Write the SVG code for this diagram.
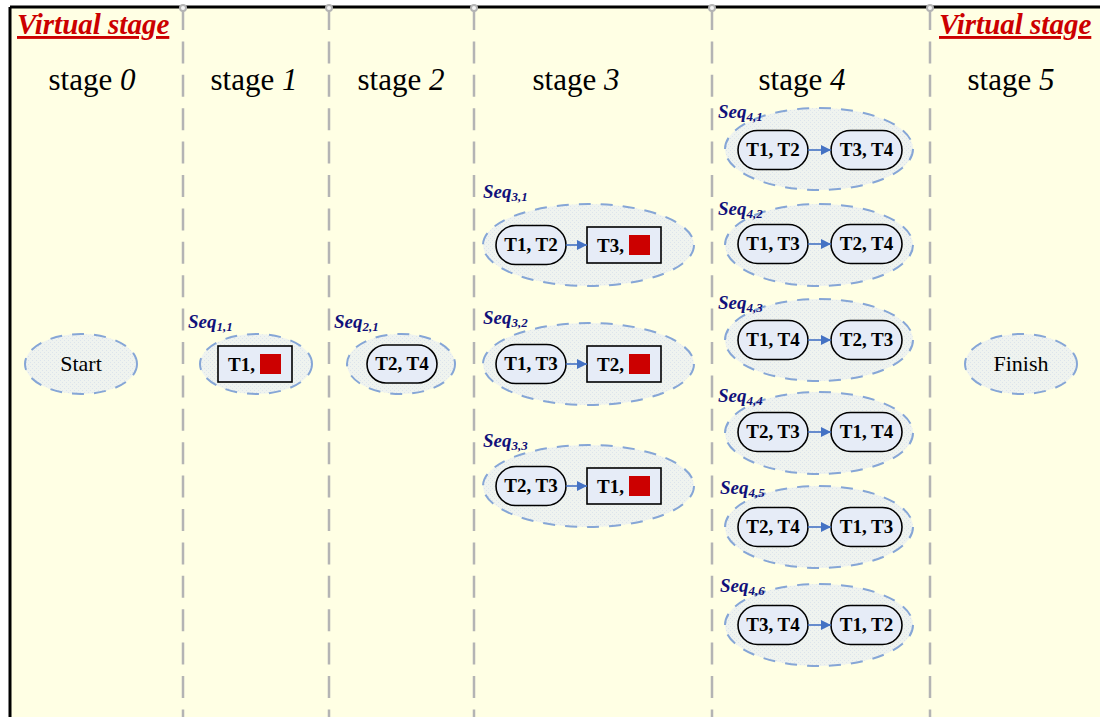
<svg xmlns="http://www.w3.org/2000/svg" width="1100" height="717" viewBox="0 0 1100 717">
  <defs>
    <pattern id="stipple" width="4" height="4" patternUnits="userSpaceOnUse">
      <rect width="4" height="4" fill="#EFF3EF"/>
      <rect x="0" y="0" width="1" height="1" fill="#DCE4EC"/>
      <rect x="2" y="2" width="1" height="1" fill="#DCE4EC"/>
    </pattern>
    <marker id="arrow" viewBox="0 0 10 10" refX="10" refY="5" markerWidth="10" markerHeight="10" markerUnits="userSpaceOnUse" orient="auto">
      <path d="M0,0 L10,5 L0,10 z" fill="#4472C4"/>
    </marker>
    <style>
      .virt { font-family: "Liberation Serif", "Times New Roman", serif; font-size: 29px; font-weight: bold; font-style: italic; fill: #CC0000; text-decoration: underline; }
      .stage { font-family: "Liberation Serif", "Times New Roman", serif; font-size: 31px; fill: #000; }
      .num { font-style: italic; }
      .divider { stroke: #B4B4B4; stroke-width: 2.5; stroke-dasharray: 22 11.4; fill: none; }
      .pin { stroke: #B4B4B4; stroke-width: 2; fill: #F4F4F4; }
      .seqoval { fill: url(#stipple); stroke: #86A6D6; stroke-width: 2; stroke-dasharray: 12 10; }
      .task { fill: #E6ECF7; stroke: #000; stroke-width: 1.6; }
      .tlabel { font-family: "Liberation Serif", "Times New Roman", serif; font-size: 19px; font-weight: bold; fill: #000; }
      .plain { font-family: "Liberation Serif", "Times New Roman", serif; font-size: 22px; fill: #000; text-anchor: middle; }
      .seq { font-family: "Liberation Serif", "Times New Roman", serif; font-size: 19px; font-weight: bold; font-style: italic; fill: #10107A; }
      .sub { font-size: 13px; }
      .busy { fill: #CC0000; }
      .link { stroke: #4472C4; stroke-width: 1.6; fill: none; marker-end: url(#arrow); }
    </style>
  </defs>

  <!-- canvas -->
  <rect x="0" y="0" width="1100" height="717" fill="#FFFFFF"/>
  <rect x="10" y="7" width="1090" height="710" fill="#FFFFE4"/>
  <line x1="10" y1="7" x2="1100" y2="7" stroke="#000" stroke-width="3"/>
  <line x1="10" y1="7" x2="10" y2="717" stroke="#000" stroke-width="3"/>

  <!-- stage dividers -->
  <g id="dividers">
    <line class="divider" x1="183" y1="8" x2="183" y2="717"/>
    <line class="divider" x1="329" y1="8" x2="329" y2="717"/>
    <line class="divider" x1="474" y1="8" x2="474" y2="717"/>
    <line class="divider" x1="712" y1="8" x2="712" y2="717"/>
    <line class="divider" x1="930" y1="8" x2="930" y2="717"/>
    <circle class="pin" cx="183" cy="8" r="3"/>
    <circle class="pin" cx="329" cy="8" r="3"/>
    <circle class="pin" cx="474" cy="8" r="3"/>
    <circle class="pin" cx="712" cy="8" r="3"/>
    <circle class="pin" cx="930" cy="8" r="3"/>
  </g>

  <!-- headings -->
  <g id="headings">
    <text class="virt" x="17" y="34">Virtual stage</text>
    <text class="virt" x="939" y="34">Virtual stage</text>
    <text class="stage" x="92" y="90" text-anchor="middle">stage <tspan class="num">0</tspan></text>
    <text class="stage" x="254" y="90" text-anchor="middle">stage <tspan class="num">1</tspan></text>
    <text class="stage" x="401" y="90" text-anchor="middle">stage <tspan class="num">2</tspan></text>
    <text class="stage" x="576" y="90" text-anchor="middle">stage <tspan class="num">3</tspan></text>
    <text class="stage" x="802" y="90" text-anchor="middle">stage <tspan class="num">4</tspan></text>
    <text class="stage" x="1011" y="90" text-anchor="middle">stage <tspan class="num">5</tspan></text>
  </g>

  <!-- stage 0 -->
  <g id="start">
    <ellipse class="seqoval" cx="81" cy="364" rx="56" ry="30"/>
    <text class="plain" x="81" y="371">Start</text>
  </g>

  <!-- stage 1 -->
  <g id="seq-1-1">
    <ellipse class="seqoval" cx="256" cy="364" rx="56" ry="30"/>
    <rect class="task" x="218" y="346" width="74" height="36"/>
    <text class="tlabel" x="228" y="371">T1,</text>
    <rect class="busy" x="260" y="354" width="21" height="20"/>
    <text class="seq" x="188" y="328">Seq<tspan class="sub" dy="3">1,1</tspan></text>
  </g>

  <!-- stage 2 -->
  <g id="seq-2-1">
    <ellipse class="seqoval" cx="401" cy="364" rx="54" ry="30"/>
    <rect class="task" x="367" y="345" width="70" height="38" rx="19"/>
    <text class="tlabel" x="402" y="370" text-anchor="middle">T2, T4</text>
    <text class="seq" x="334" y="328">Seq<tspan class="sub" dy="3">2,1</tspan></text>
  </g>

  <!-- stage 3 -->
  <g id="seq-3-1">
    <ellipse class="seqoval" cx="588.5" cy="245" rx="105.5" ry="41"/>
    <rect class="task" x="496" y="225.5" width="70" height="39" rx="19.5"/>
    <text class="tlabel" x="531" y="251" text-anchor="middle">T1, T2</text>
    <rect class="task" x="587" y="227" width="74" height="36"/>
    <text class="tlabel" x="597" y="252">T3,</text>
    <rect class="busy" x="629" y="235" width="21" height="20"/>
    <text class="seq" x="483" y="198">Seq<tspan class="sub" dy="3">3,1</tspan></text>
  </g>
  <g id="seq-3-2">
    <ellipse class="seqoval" cx="588.5" cy="364" rx="105.5" ry="41"/>
    <rect class="task" x="496" y="344.5" width="70" height="39" rx="19.5"/>
    <text class="tlabel" x="531" y="370" text-anchor="middle">T1, T3</text>
    <rect class="task" x="587" y="346" width="74" height="36"/>
    <text class="tlabel" x="597" y="371">T2,</text>
    <rect class="busy" x="629" y="354" width="21" height="20"/>
    <text class="seq" x="483" y="324">Seq<tspan class="sub" dy="3">3,2</tspan></text>
  </g>
  <g id="seq-3-3">
    <ellipse class="seqoval" cx="588.5" cy="486" rx="105.5" ry="41"/>
    <rect class="task" x="496" y="466.5" width="70" height="39" rx="19.5"/>
    <text class="tlabel" x="531" y="492" text-anchor="middle">T2, T3</text>
    <rect class="task" x="587" y="468" width="74" height="36"/>
    <text class="tlabel" x="597" y="493">T1,</text>
    <rect class="busy" x="629" y="476" width="21" height="20"/>
    <text class="seq" x="483" y="447">Seq<tspan class="sub" dy="3">3,3</tspan></text>
  </g>

  <!-- stage 4 -->
  <g id="seq-4-1">
    <ellipse class="seqoval" cx="819" cy="149" rx="94" ry="41"/>
    <rect class="task" x="738" y="130.5" width="70" height="39" rx="19.5"/>
    <text class="tlabel" x="773" y="156" text-anchor="middle">T1, T2</text>
    <rect class="task" x="831" y="130.5" width="71" height="39" rx="19.5"/>
    <text class="tlabel" x="866.5" y="156" text-anchor="middle">T3, T4</text>
    <text class="seq" x="718" y="118">Seq<tspan class="sub" dy="3">4,1</tspan></text>
  </g>
  <g id="seq-4-2">
    <ellipse class="seqoval" cx="819" cy="245" rx="94" ry="41"/>
    <rect class="task" x="738" y="224.5" width="70" height="39" rx="19.5"/>
    <text class="tlabel" x="773" y="250" text-anchor="middle">T1, T3</text>
    <rect class="task" x="831" y="224.5" width="71" height="39" rx="19.5"/>
    <text class="tlabel" x="866.5" y="250" text-anchor="middle">T2, T4</text>
    <text class="seq" x="718" y="215">Seq<tspan class="sub" dy="3">4,2</tspan></text>
  </g>
  <g id="seq-4-3">
    <ellipse class="seqoval" cx="819" cy="340" rx="94" ry="41"/>
    <rect class="task" x="738" y="320.5" width="70" height="39" rx="19.5"/>
    <text class="tlabel" x="773" y="346" text-anchor="middle">T1, T4</text>
    <rect class="task" x="831" y="320.5" width="71" height="39" rx="19.5"/>
    <text class="tlabel" x="866.5" y="346" text-anchor="middle">T2, T3</text>
    <text class="seq" x="718" y="309">Seq<tspan class="sub" dy="3">4,3</tspan></text>
  </g>
  <g id="seq-4-4">
    <ellipse class="seqoval" cx="819" cy="433" rx="94" ry="41"/>
    <rect class="task" x="738" y="412.5" width="70" height="39" rx="19.5"/>
    <text class="tlabel" x="773" y="438" text-anchor="middle">T2, T3</text>
    <rect class="task" x="831" y="412.5" width="71" height="39" rx="19.5"/>
    <text class="tlabel" x="866.5" y="438" text-anchor="middle">T1, T4</text>
    <text class="seq" x="718" y="402">Seq<tspan class="sub" dy="3">4,4</tspan></text>
  </g>
  <g id="seq-4-5">
    <ellipse class="seqoval" cx="819" cy="527" rx="94" ry="41"/>
    <rect class="task" x="738" y="507.5" width="70" height="39" rx="19.5"/>
    <text class="tlabel" x="773" y="533" text-anchor="middle">T2, T4</text>
    <rect class="task" x="831" y="507.5" width="71" height="39" rx="19.5"/>
    <text class="tlabel" x="866.5" y="533" text-anchor="middle">T1, T3</text>
    <text class="seq" x="720" y="494">Seq<tspan class="sub" dy="3">4,5</tspan></text>
  </g>
  <g id="seq-4-6">
    <ellipse class="seqoval" cx="819" cy="625" rx="94" ry="41"/>
    <rect class="task" x="738" y="605.5" width="70" height="39" rx="19.5"/>
    <text class="tlabel" x="773" y="631" text-anchor="middle">T3, T4</text>
    <rect class="task" x="831" y="605.5" width="71" height="39" rx="19.5"/>
    <text class="tlabel" x="866.5" y="631" text-anchor="middle">T1, T2</text>
    <text class="seq" x="720" y="592">Seq<tspan class="sub" dy="3">4,6</tspan></text>
  </g>

  <!-- stage 5 -->
  <g id="finish">
    <ellipse class="seqoval" cx="1021" cy="364" rx="56" ry="30"/>
    <text class="plain" x="1021" y="371">Finish</text>
  </g>

  <!-- connectors between tasks inside a sequence -->
  <g id="connectors">
    <line class="link" x1="566" y1="245" x2="587" y2="245"/>
    <line class="link" x1="566" y1="364" x2="587" y2="364"/>
    <line class="link" x1="566" y1="486" x2="587" y2="486"/>
    <line class="link" x1="808" y1="150" x2="831" y2="150"/>
    <line class="link" x1="808" y1="244" x2="831" y2="244"/>
    <line class="link" x1="808" y1="340" x2="831" y2="340"/>
    <line class="link" x1="808" y1="432" x2="831" y2="432"/>
    <line class="link" x1="808" y1="527" x2="831" y2="527"/>
    <line class="link" x1="808" y1="625" x2="831" y2="625"/>
  </g>
</svg>
